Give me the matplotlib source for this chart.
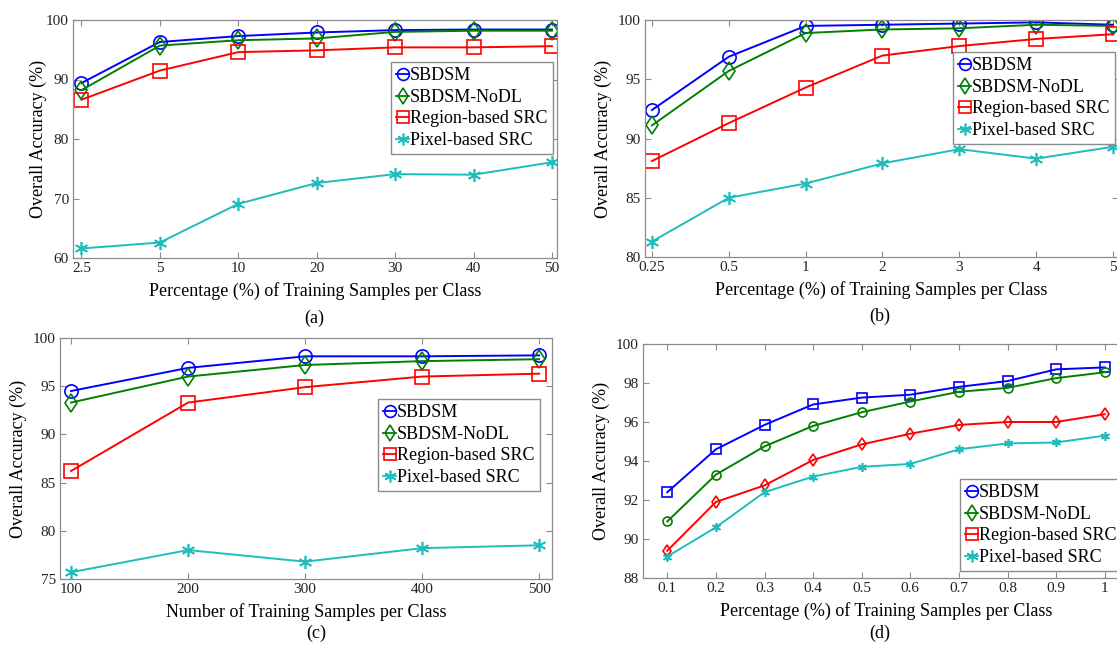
import matplotlib
matplotlib.use("Agg")
from matplotlib import pyplot as plt
from matplotlib.lines import Line2D

plt.rcParams['font.family'] = ['Liberation Serif', 'DejaVu Serif']

names = ['SBDSM', 'SBDSM-NoDL', 'Region-based SRC', 'Pixel-based SRC']

# (a)
a_ticks = ['2.5', '5', '10', '20', '30', '40', '50']
a_sbdsm = [89.4, 96.3, 97.3, 97.9, 98.3, 98.4, 98.4]
a_nodl = [88.2, 95.7, 96.6, 96.9, 98.0, 98.2, 98.2]
a_region = [86.6, 91.5, 94.6, 94.9, 95.4, 95.4, 95.6]
a_pixel = [61.6, 62.6, 69.1, 72.6, 74.1, 74.0, 76.1]

# (b)
b_ticks = ['0.25', '0.5', '1', '2', '3', '4', '5']
b_sbdsm = [92.4, 96.9, 99.5, 99.6, 99.7, 99.8, 99.6]
b_nodl = [91.1, 95.7, 98.9, 99.2, 99.3, 99.6, 99.5]
b_region = [88.1, 91.3, 94.3, 97.0, 97.8, 98.4, 98.8]
b_pixel = [81.3, 85.0, 86.2, 87.9, 89.1, 88.3, 89.3]

# (c)
c_x = [100, 200, 300, 400, 500]
c_sbdsm = [94.5, 96.9, 98.1, 98.1, 98.2]
c_nodl = [93.3, 96.0, 97.2, 97.6, 97.8]
c_region = [86.2, 93.3, 94.9, 96.0, 96.3]
c_pixel = [75.7, 78.0, 76.8, 78.2, 78.5]

# (d)
d_x = [0.1, 0.2, 0.3, 0.4, 0.5, 0.6, 0.7, 0.8, 0.9, 1.0]
d_ticklabels = ['0.1', '0.2', '0.3', '0.4', '0.5', '0.6', '0.7', '0.8', '0.9', '1']
d_sbdsm = [92.4, 94.6, 95.85, 96.9, 97.25, 97.4, 97.8, 98.1, 98.7, 98.8]
d_nodl = [90.9, 93.3, 94.75, 95.8, 96.5, 97.05, 97.55, 97.75, 98.25, 98.55]
d_region = [89.4, 91.9, 92.75, 94.05, 94.85, 95.4, 95.85, 96.0, 96.0, 96.4]
d_pixel = [89.1, 90.6, 92.4, 93.2, 93.7, 93.85, 94.6, 94.9, 94.95, 95.3]

colors = ['#0000ff', '#008000', '#ff0000', '#1fbcbc']
markers = ['o', 'd', 's', (6, 2, 0)]
d_markers = ['s', 'o', 'd', (6, 2, 0)]  # panel d uses other markers than its legend

W, H = 1117, 645
fig = plt.figure(figsize=(W / 100, H / 100), dpi=100)


def add_ax(l, t, r, b):
    # pixel box -> figure fraction
    return fig.add_axes([l / W, 1 - b / H, (r - l) / W, (b - t) / H])


def style(ax):
    for s in ax.spines.values():
        s.set_color('#8c8c8c')
        s.set_linewidth(0.9)
    ax.tick_params(direction='in', top=True, right=True, length=4,
                   color='#8c8c8c', labelsize=11, labelcolor='#222222', pad=3)


def legend(ax, loc):
    hs = [Line2D([], [], color=c, marker=m, mfc='none', ms=8.5, mew=1.2, lw=1.3)
          for c, m in zip(colors, markers)]
    ax.legend(hs, names, loc='upper left', bbox_to_anchor=loc, fontsize=13,
              handlelength=0.7, handletextpad=0.05, borderpad=0.3, labelspacing=0.25,
              borderaxespad=0, frameon=True, fancybox=False, edgecolor='#8c8c8c',
              framealpha=1)


def draw(ax, x, series, mk, ms):
    for ys, c, m in zip(series, colors, mk):
        ax.plot(x, ys, color=c, marker=m, mfc='none', ms=ms, mew=1.2, lw=1.4)


# panel a
ax = add_ax(73, 20, 557, 258)
draw(ax, range(7), [a_sbdsm, a_nodl, a_region, a_pixel], markers, 9.5)
ax.set_xlim(-0.107, 6.064)
ax.set_ylim(60, 100)
ax.set_xticks(range(7), a_ticks)
ax.set_yticks([60, 70, 80, 90, 100])
style(ax)
ax.set_ylabel('Overall Accuracy (%)', fontsize=13, labelpad=-1)
ax.set_xlabel('Percentage (%) of Training Samples per Class', fontsize=13, labelpad=5)
legend(ax, ((391 - 73) / 484, (258 - 62) / 238))
fig.text(314 / W, 1 - 318 / H, '(a)', fontsize=13, ha='center', va='center')

# panel b
ax = add_ax(645, 20, 1118, 257)
draw(ax, range(7), [b_sbdsm, b_nodl, b_region, b_pixel], markers, 9.5)
ax.set_xlim(-0.09, 6.065)
ax.set_ylim(80, 100)
ax.set_xticks(range(7), b_ticks)
ax.set_yticks([80, 85, 90, 95, 100])
style(ax)
ax.set_ylabel('Overall Accuracy (%)', fontsize=13, labelpad=4)
ax.set_xlabel('Percentage (%) of Training Samples per Class', fontsize=13, labelpad=5)
legend(ax, ((953 - 645) / 473, (257 - 52) / 237))
fig.text(880 / W, 1 - 316 / H, '(b)', fontsize=13, ha='center', va='center')

# panel c
ax = add_ax(60, 338, 552, 579)
draw(ax, c_x, [c_sbdsm, c_nodl, c_region, c_pixel], markers, 9.5)
ax.set_xlim(90.6, 511)
ax.set_ylim(75, 100)
ax.set_xticks(c_x)
ax.set_yticks([75, 80, 85, 90, 95, 100])
style(ax)
ax.set_ylabel('Overall Accuracy (%)', fontsize=13, labelpad=4)
ax.set_xlabel('Number of Training Samples per Class', fontsize=13, labelpad=5)
legend(ax, ((378 - 60) / 492, (579 - 399) / 241))
fig.text(316 / W, 1 - 633 / H, '(c)', fontsize=13, ha='center', va='center')

# panel d
ax = add_ax(643, 344, 1129, 578)
draw(ax, d_x, [d_sbdsm, d_nodl, d_region, d_pixel], d_markers, 6.5)
ax.set_xlim(0.05, 1.05)
ax.set_ylim(88, 100)
ax.set_xticks(d_x, d_ticklabels)
ax.set_yticks([88, 90, 92, 94, 96, 98, 100])
style(ax)
ax.set_ylabel('Overall Accuracy (%)', fontsize=13, labelpad=4)
ax.set_xlabel('Percentage (%) of Training Samples per Class', fontsize=13, labelpad=5)
legend(ax, ((960 - 643) / 486, (578 - 479) / 234))
fig.text(880 / W, 1 - 633 / H, '(d)', fontsize=13, ha='center', va='center')

fig.savefig('out.png', dpi=100)
